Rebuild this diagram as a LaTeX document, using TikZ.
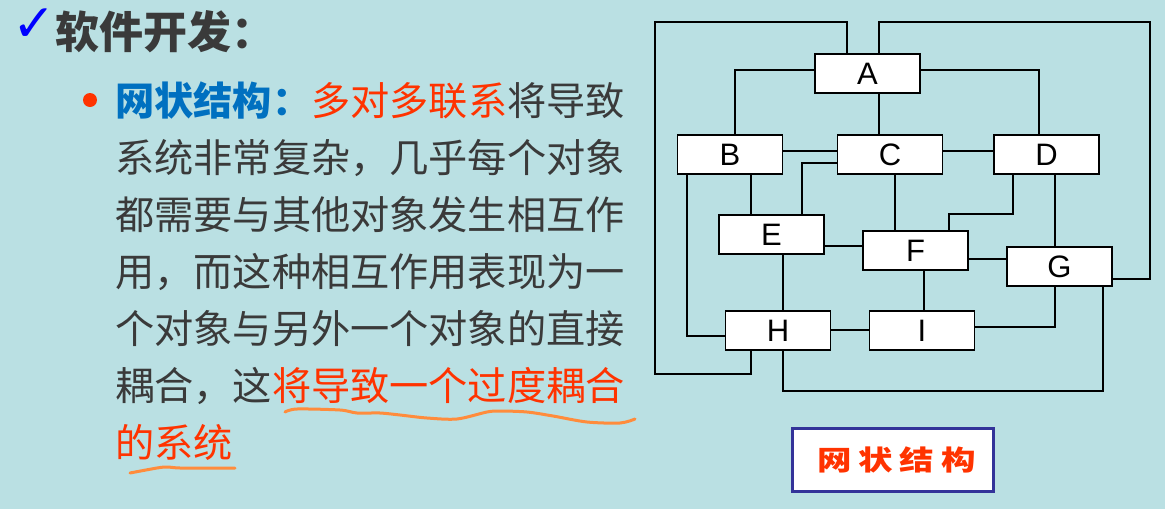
\documentclass[tikz,border=0pt]{standalone}
\usepackage{fontspec}
\usepackage{graphicx}
\setmainfont{Noto Sans CJK SC}
\newfontfamily\arial{Liberation Sans}
\newfontfamily\dejavu{DejaVu Sans}
\newfontfamily\boxcjk[LetterSpace=20]{Noto Sans CJK SC}
\definecolor{bgc}{RGB}{186,224,227}
\definecolor{txt}{RGB}{58,58,58}
\definecolor{blu}{RGB}{0,112,192}
\definecolor{rd}{RGB}{255,51,0}
\definecolor{chk}{RGB}{0,0,255}
\definecolor{wav}{RGB}{255,140,60}
\definecolor{frm}{RGB}{51,51,153}
\tikzset{
  obj/.style={draw=black, line width=1.5pt, fill=white, minimum width=105pt, minimum height=39pt, inner sep=0pt, font=\arial\fontsize{31}{31}\selectfont},
  link/.style={draw=black, line width=1.5pt},
  line/.style={anchor=base west, inner sep=0pt, text=txt, font=\fontsize{39.2}{47}\selectfont},
  wave/.style={draw=wav, line width=3pt, line cap=round, line join=round},
}
\begin{document}
\begin{tikzpicture}[x=1pt,y=-1pt]
\useasboundingbox (0,0) rectangle (1165,509);
\fill[bgc] (0,0) rectangle (1165,509);
% left text
\node[anchor=center, inner sep=0pt, text=chk, font=\dejavu\fontsize{52}{52}\selectfont] (chk) at (34,25) {✓};
\node[anchor=base west, inner sep=0pt, text=txt, font=\bfseries\fontsize{44}{50}\selectfont] (title) at (55,48) {软件开发：};
\fill[rd] (90,100) circle (7);
\node[line] (l1) at (115,115) {{\bfseries\color{blu}网状结构：}{\color{rd}多对多联系}将导致};
\node[line] (l2) at (115,172) {系统非常复杂，几乎每个对象};
\node[line] (l3) at (115,229) {都需要与其他对象发生相互作};
\node[line] (l4) at (115,286) {用，而这种相互作用表现为一};
\node[line] (l5) at (115,343) {个对象与另外一个对象的直接};
\node[line] (l6) at (115,400) {耦合，这{\color{rd}将导致一个过度耦合}};
\node[line, text=rd] (l7) at (115,457) {的系统};
\draw[wave] plot[smooth] coordinates {(285,412) (297,409) (340,410) (357,413) (380,413) (400,415) (427,418) (457,419) (487,412) (500,411) (527,412) (553,416) (587,422) (620,423) (635,419)};
\draw[wave] plot[smooth] coordinates {(130,473) (157,468) (167,467) (180,468) (213,468) (235,468)};
% network
\node[obj] (A) at (867.5,73.5) {A};
\node[obj] (B) at (730,154.5) {B};
\node[obj] (C) at (890,154.5) {C};
\node[obj] (D) at (1046.5,154.5) {D};
\node[obj] (E) at (771.5,234.5) {E};
\node[obj] (F) at (915.5,250.5) {F};
\node[obj] (G) at (1059.5,266.5) {G};
\node[obj] (H) at (778,330.5) {H};
\node[obj] (I) at (922,330.5) {I};
\draw[link] (847,0 |- A.north) -- (847,22) -- (655,22) -- (655,374) -- (751,374) -- (751,0 |- H.south);
\draw[link] (879,0 |- A.north) -- (879,22) -- (1150,22) -- (1150,279) -- (G.east |- 0,279);
\draw[link] (A.west |- 0,70) -| (735,0 |- B.north);
\draw[link] (A.east |- 0,70) -| (1039,0 |- D.north);
\draw[link] (879,0 |- A.south) -- (879,0 |- C.north);
\draw[link] (B.east |- 0,151) -- (C.west |- 0,151);
\draw[link] (C.east |- 0,151) -- (D.west |- 0,151);
\draw[link] (C.west |- 0,163) -| (802,0 |- E.north);
\draw[link] (751,0 |- B.south) -- (751,0 |- E.north);
\draw[link] (687,0 |- B.south) |- (H.west |- 0,336);
\draw[link] (895,0 |- C.south) -- (895,0 |- F.north);
\draw[link] (1013,0 |- D.south) -- (1013,214) -| (949,0 |- F.north);
\draw[link] (1055,0 |- D.south) -- (1055,0 |- G.north);
\draw[link] (E.east |- 0,246) -- (F.west |- 0,246);
\draw[link] (F.east |- 0,259) -- (G.west |- 0,259);
\draw[link] (783,0 |- E.south) -- (783,0 |- H.north);
\draw[link] (924,0 |- F.south) -- (924,0 |- I.north);
\draw[link] (H.east |- 0,330) -- (I.west |- 0,330);
\draw[link] (I.east |- 0,327) -| (1055,0 |- G.south);
\draw[link] (783,0 |- H.south) -- (783,391) -| (1103,0 |- G.south);
% caption box
\node[draw=frm, line width=3pt, fill=white, minimum width=201pt, minimum height=63pt, inner sep=0pt, text=rd, font=\boxcjk\bfseries\fontsize{30}{30}\selectfont] (cap) at (893,460) {\scalebox{1.15}[0.92]{网状结构\hspace{-6pt}}};
\end{tikzpicture}
\end{document}
